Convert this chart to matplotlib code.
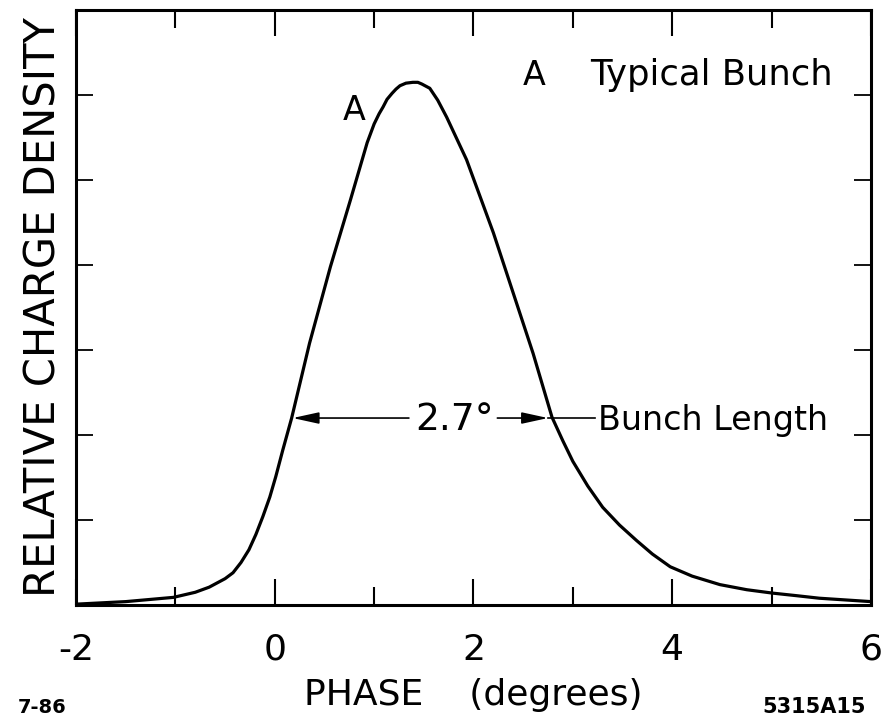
import matplotlib
matplotlib.use("Agg")
import matplotlib.pyplot as plt

plt.rcParams['font.family'] = ['DejaVu Sans']

# Data
phase = [-2.0, -1.5, -1.02, -0.8, -0.66, -0.5, -0.42, -0.34, -0.26, -0.19,
         -0.12, -0.05, 0.01, 0.08, 0.17, 0.35, 0.56, 0.76, 0.93, 1.0, 1.05,
         1.09, 1.13, 1.18, 1.22, 1.26, 1.32, 1.39, 1.44, 1.48, 1.56, 1.64,
         1.73, 1.93, 2.20, 2.40, 2.60, 2.79, 2.9, 3.0, 3.15, 3.30, 3.47, 3.64,
         3.8, 3.98, 4.2, 4.48, 4.75, 5.01, 5.25, 5.48, 6.0]
density = [0.01, 0.04, 0.09, 0.15, 0.21, 0.31, 0.38, 0.50, 0.65, 0.83,
           1.04, 1.27, 1.51, 1.82, 2.2, 3.08, 3.98, 4.76, 5.44, 5.66, 5.78,
           5.86, 5.95, 6.02, 6.07, 6.11, 6.14, 6.15, 6.15, 6.13, 6.08, 5.94,
           5.74, 5.24, 4.38, 3.67, 2.96, 2.21, 1.93, 1.69, 1.40, 1.15, 0.94, 0.76,
           0.60, 0.45, 0.34, 0.24, 0.18, 0.14, 0.11, 0.08, 0.04]

x_major = [-2, 0, 2, 4, 6]
x_major_labels = ['-2', '0', '2', '4', '6']
x_minor = [-1, 1, 3, 5]
y_ticks = [1, 2, 3, 4, 5, 6]

bunch_left, bunch_right, bunch_level = 0.18, 2.75, 2.2

fig = plt.figure(figsize=(8.81, 7.2), dpi=100)
ax = fig.add_axes([0.0863, 0.1597, 0.9023, 0.8263])

ax.plot(phase, density, color='black', lw=2.3, solid_capstyle='round',
        solid_joinstyle='round')

ax.set_xlim(-2, 6)
ax.set_ylim(0, 7)

ax.set_xticks(x_major)
ax.set_xticklabels(x_major_labels)
ax.set_xticks(x_minor, minor=True)
ax.set_yticks(y_ticks)
ax.set_yticklabels([])
ax.tick_params(axis='x', which='major', direction='in', length=19, width=1.5,
               top=True, labelsize=26, pad=20)
ax.tick_params(axis='x', which='minor', direction='in', length=13, width=1.5,
               top=True)
ax.tick_params(axis='y', which='major', direction='in', length=12, width=1.3,
               right=True)
for s in ax.spines.values():
    s.set_linewidth(2.2)

ax.set_xlabel('PHASE    (degrees)', fontsize=26, labelpad=8)
ax.set_ylabel('RELATIVE CHARGE DENSITY', fontsize=30, labelpad=5)

# Labels
ax.text(0.80, 5.82, 'A', fontsize=24, ha='center', va='center')
ax.text(2.50, 6.12, 'A', fontsize=24, ha='left', va='baseline')
ax.text(3.17, 6.12, 'Typical Bunch', fontsize=25.5, ha='left', va='baseline')

# Bunch length annotation
ax.text(1.81, 2.06, '2.7°', fontsize=27, ha='center', va='baseline')
ax.annotate('', xy=(bunch_left, bunch_level), xytext=(1.35, bunch_level),
            arrowprops=dict(arrowstyle='-|>,head_length=1.6,head_width=0.35',
                            color='black', lw=1.2, shrinkA=0, shrinkB=0))
ax.annotate('', xy=(bunch_right, bunch_level), xytext=(2.24, bunch_level),
            arrowprops=dict(arrowstyle='-|>,head_length=1.6,head_width=0.35',
                            color='black', lw=1.2, shrinkA=0, shrinkB=0))
ax.plot([bunch_right, 3.22], [bunch_level, bunch_level], color='black', lw=1.2)
ax.text(3.25, 2.06, 'Bunch Length', fontsize=24, ha='left', va='baseline')

fig.text(18 / 881, 1 - 713 / 720, '7-86', fontsize=14, fontweight='bold',
         ha='left', va='baseline')
fig.text(866 / 881, 1 - 713 / 720, '5315A15', fontsize=15, fontweight='bold',
         ha='right', va='baseline')

fig.savefig('out.png', dpi=100)
